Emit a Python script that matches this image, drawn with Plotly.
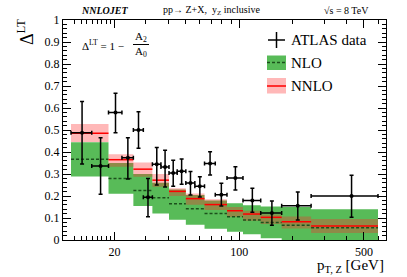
import plotly.graph_objects as go

# ---------------- data ----------------
data_edges = [11.4, 14.9, 18.5, 22.0, 25.5, 29.0, 32.6, 36.4, 40.4, 44.9, 50.2,
              56.4, 63.9, 73.4, 85.4, 105, 132, 173, 253, 600]
data_val = [0.488, 0.336, 0.579, 0.374, 0.500, 0.194, 0.344, 0.332, 0.305, 0.312,
            0.259, 0.244, 0.348, 0.206, 0.282, 0.180, 0.123, 0.156, 0.200]
data_hi = [0.629, 0.465, 0.667, 0.465, 0.583, 0.280, 0.420, 0.408, 0.362, 0.368,
           0.311, 0.288, 0.401, 0.258, 0.333, 0.235, 0.177, 0.218, 0.294]
data_lo = [0.345, 0.208, 0.488, 0.277, 0.417, 0.106, 0.250, 0.241, 0.244, 0.253,
           0.205, 0.195, 0.295, 0.155, 0.227, 0.126, 0.067, 0.091, 0.103]

th_edges = [11.4, 18.5, 25.5, 32.6, 40.4, 50.2, 63.9, 85.4, 105, 132, 173, 253, 600]
nlo_c = [0.367, 0.279, 0.225, 0.192, 0.165, 0.142, 0.121, 0.106, 0.091, 0.079, 0.067, 0.056]
nlo_lo = [0.289, 0.210, 0.155, 0.121, 0.092, 0.069, 0.051, 0.038, 0.026, 0.008, -0.02, -0.04]
nlo_hi = [0.444, 0.350, 0.300, 0.260, 0.229, 0.204, 0.180, 0.167, 0.158, 0.152, 0.150, 0.140]
nnlo_c = [0.485, 0.365, 0.322, 0.272, 0.221, 0.188, 0.161, 0.133, 0.118, 0.103, 0.083, 0.064]
nnlo_lo = [0.446, 0.333, 0.288, 0.242, 0.200, 0.160, 0.136, 0.105, 0.088, 0.073, 0.052, 0.032]
nnlo_hi = [0.527, 0.390, 0.352, 0.300, 0.235, 0.211, 0.185, 0.150, 0.133, 0.116, 0.107, 0.095]

x_major = [20, 100, 500]
x_minor = [12, 13, 14, 15, 16, 17, 18, 19, 30, 40, 50, 60, 70, 80, 90,
           200, 300, 400, 600]

GREEN = "rgb(88,187,88)"
PINK = "rgba(255,40,40,0.33)"
FONT = "Liberation Serif"


def boxes(edges, lo, hi):
    xs, ys = [], []
    for i in range(len(lo)):
        a, b = edges[i], edges[i + 1]
        xs += [a, b, b, a, a, None]
        ys += [lo[i], lo[i], hi[i], hi[i], lo[i], None]
    return xs, ys


def segs(edges, v):
    xs, ys = [], []
    for i in range(len(v)):
        xs += [edges[i], edges[i + 1], None]
        ys += [v[i], v[i], None]
    return xs, ys


fig = go.Figure()

bx, by = boxes(th_edges, nlo_lo, nlo_hi)
fig.add_trace(go.Scatter(x=bx, y=by, fill="toself", fillcolor=GREEN, mode="lines",
                         line=dict(width=0), hoverinfo="skip", showlegend=False))
bx, by = boxes(th_edges, nnlo_lo, nnlo_hi)
fig.add_trace(go.Scatter(x=bx, y=by, fill="toself", fillcolor=PINK, mode="lines",
                         line=dict(width=0), hoverinfo="skip", showlegend=False))
sx, sy = segs(th_edges, nlo_c)
fig.add_trace(go.Scatter(x=sx, y=sy, mode="lines",
                         line=dict(color="#1c501c", width=1.5, dash="3px,2px"),
                         showlegend=False))
sx, sy = segs(th_edges, nnlo_c)
fig.add_trace(go.Scatter(x=sx, y=sy, mode="lines",
                         line=dict(color="red", width=1.5), showlegend=False))

dx = [(data_edges[i] + data_edges[i + 1]) / 2 for i in range(len(data_val))]
ex_p = [data_edges[i + 1] - dx[i] for i in range(len(dx))]
ex_m = [dx[i] - data_edges[i] for i in range(len(dx))]
ey_p = [data_hi[i] - data_val[i] for i in range(len(dx))]
ey_m = [data_val[i] - data_lo[i] for i in range(len(dx))]
fig.add_trace(go.Scatter(
    x=dx, y=data_val, mode="markers",
    marker=dict(color="black", size=4),
    error_x=dict(type="data", symmetric=False, array=ex_p, arrayminus=ex_m,
                 color="black", thickness=1.5, width=2),
    error_y=dict(type="data", symmetric=False, array=ey_p, arrayminus=ey_m,
                 color="black", thickness=1.5, width=2),
    showlegend=False))

# ---------------- layout ----------------
L, R, T, B = 63, 21, 20, 37
W, H = 407, 277
pw, ph = W - L - R, H - T - B


def px(x):
    return (x - L) / pw


def py(y):
    return (H - B - y) / ph


fig.update_layout(
    width=W, height=H, margin=dict(l=L, r=R, t=T, b=B),
    paper_bgcolor="white", plot_bgcolor="white",
    font=dict(family=FONT, color="black", size=12),
    xaxis=dict(type="log", range=[1.012, 2.823], showgrid=False, zeroline=False,
               showline=True, linecolor="black", linewidth=1.2, mirror="allticks",
               ticks="inside", ticklen=8, tickcolor="black", tickwidth=1,
               tickvals=x_major, ticktext=[str(v) for v in x_major],
               tickfont=dict(size=12, family=FONT),
               minor=dict(ticks="inside", ticklen=4, tickvals=x_minor,
                          tickcolor="black", tickwidth=1)),
    yaxis=dict(range=[0, 1], showgrid=False, zeroline=False,
               showline=True, linecolor="black", linewidth=1.2, mirror="allticks",
               ticks="inside", ticklen=8, tickcolor="black", tickwidth=1,
               dtick=0.1, tick0=0, tickfont=dict(size=12, family=FONT),
               minor=dict(ticks="inside", ticklen=4, dtick=0.02,
                          tickcolor="black", tickwidth=1)),
)

ann = []
# header
ann.append(dict(text="<b><i>NNLOJET</i></b>", x=px(104), y=py(10), xanchor="center",
                yanchor="middle", font=dict(size=10)))
ann.append(dict(text="pp\u2192 Z+X,  y<sub>Z</sub> inclusive", x=px(211), y=py(10),
                xanchor="center", yanchor="middle", font=dict(size=10)))
ann.append(dict(text="\u221as = 8 TeV", x=px(346), y=py(10), xanchor="center",
                yanchor="middle", font=dict(size=10)))
# y title
ann.append(dict(text="\u0394<sup>LT</sup>", textangle=-90, x=px(26), y=py(17),
                xanchor="center", yanchor="top", font=dict(size=18)))
# x title
ann.append(dict(text="p<sub>T, Z</sub> [GeV]", x=px(386), y=py(255), xanchor="right",
                yanchor="top", font=dict(size=15)))
# formula
ann.append(dict(text="\u0394<sup>LT</sup> = 1 \u2212", x=px(80), y=py(45), xanchor="left",
                yanchor="middle", font=dict(size=11)))
ann.append(dict(text="A<sub>2</sub>", x=px(141), y=py(37), xanchor="center",
                yanchor="middle", font=dict(size=11)))
ann.append(dict(text="A<sub>0</sub>", x=px(141), y=py(52), xanchor="center",
                yanchor="middle", font=dict(size=11)))
# legend
ann.append(dict(text="ATLAS data", x=px(289), y=py(40), xanchor="left", yanchor="middle",
                font=dict(size=15)))
ann.append(dict(text="NLO", x=px(289), y=py(62.5), xanchor="left", yanchor="middle",
                font=dict(size=15)))
ann.append(dict(text="NNLO", x=px(289), y=py(86), xanchor="left", yanchor="middle",
                font=dict(size=15)))
for a in ann:
    a.update(xref="paper", yref="paper", showarrow=False)
fig.update_layout(annotations=ann)

shp = []
# fraction bar
shp.append(dict(type="line", x0=px(133), x1=px(149), y0=py(44.5), y1=py(44.5),
                line=dict(color="black", width=1)))
# legend symbols
shp.append(dict(type="line", x0=px(268), x1=px(285), y0=py(40), y1=py(40),
                line=dict(color="black", width=1.5)))
shp.append(dict(type="line", x0=px(276.5), x1=px(276.5), y0=py(32), y1=py(48),
                line=dict(color="black", width=1.5)))
shp.append(dict(type="rect", x0=px(267), x1=px(286), y0=py(55.5), y1=py(70),
                fillcolor=GREEN, line=dict(width=0)))
shp.append(dict(type="line", x0=px(267), x1=px(286), y0=py(62.5), y1=py(62.5),
                line=dict(color="#1c501c", width=1.5, dash="3px,2px")))
shp.append(dict(type="rect", x0=px(267), x1=px(286), y0=py(78), y1=py(93.5),
                fillcolor=PINK, line=dict(width=0)))
shp.append(dict(type="line", x0=px(267), x1=px(286), y0=py(86), y1=py(86),
                line=dict(color="red", width=1.5)))
for s in shp:
    s.update(xref="paper", yref="paper")
fig.update_layout(shapes=shp)

fig.write_html("out.html", config={"displayModeBar": False},
               post_script="document.body.style.margin='0';document.body.style.padding='0';")
